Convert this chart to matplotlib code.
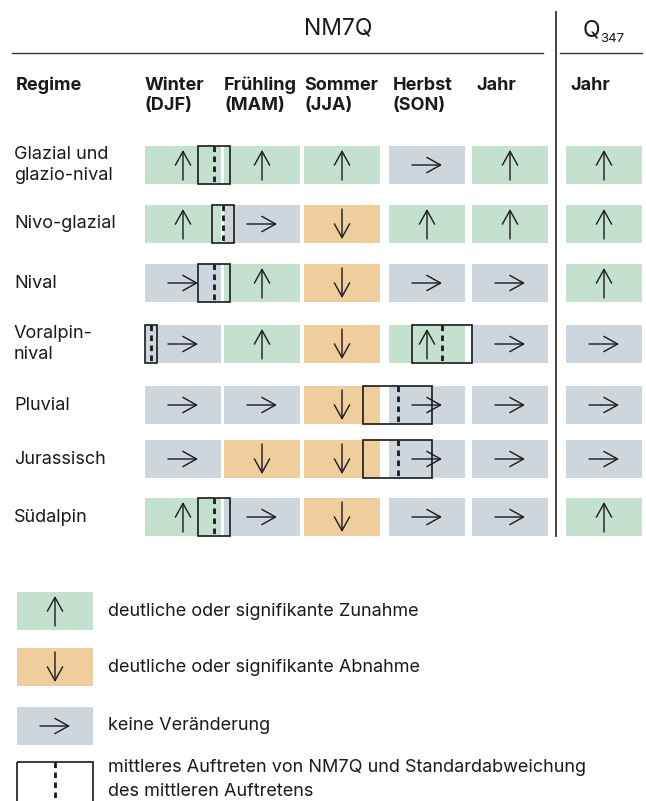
import numpy as np
import matplotlib
matplotlib.use("Agg")
import matplotlib.pyplot as plt
from matplotlib.patches import Rectangle

plt.rcParams['font.family'] = ['Inter', 'DejaVu Sans']

# trend codes: 1 = increase, -1 = decrease, 0 = no change
regimes = ["Glazial und\nglazio-nival", "Nivo-glazial", "Nival", "Voralpin-\nnival",
           "Pluvial", "Jurassisch", "Südalpin"]
columns = ["Winter\n(DJF)", "Frühling\n(MAM)", "Sommer\n(JJA)", "Herbst\n(SON)", "Jahr", "Jahr"]
trends = [
    [1, 1, 1, 0, 1, 1],
    [1, 0, -1, 1, 1, 1],
    [0, 1, -1, 0, 0, 1],
    [0, 1, -1, 1, 0, 0],
    [0, 0, -1, 0, 0, 0],
    [0, -1, -1, 0, 0, 0],
    [1, 0, -1, 0, 0, 1],
]
# mean occurrence of NM7Q and its std, in season units (0 = start of winter)
box_row = [0, 1, 2, 3, 3, 4, 5, 6]
box_mean = [0.86, 0.975, 0.86, 0.075, 3.71, 3.16, 3.16, 0.86]
box_std = [0.2, 0.14, 0.2, 0.07, 0.375, 0.43, 0.43, 0.2]

legend_labels = ["deutliche oder signifikante Zunahme",
                 "deutliche oder signifikante Abnahme",
                 "keine Veränderung",
                 "mittleres Auftreten von NM7Q und Standardabweichung\ndes mittleren Auftretens"]

colors = {1: "#c4e1cf", -1: "#efcd9c", 0: "#cdd5dd"}
ink = "#1a1a1a"
fs = 13

fig = plt.figure(figsize=(6.46, 8.01), dpi=100)
ax = fig.add_axes([0, 0, 1, 1])
ax.set_xlim(0, 646)
ax.set_ylim(801, 0)
ax.axis("off")

col_left = [145, 224, 304, 389, 472, 566]
cell_w = 76
cell_h = 38
row_y = [165, 224, 283, 344, 405, 459, 517]


def season_x(u):
    return 145 + u * 80


def draw_arrow(x, y, code, size=30):
    h = size / 2
    if code == 1:
        start, end = (x, y + h), (x, y - h)
    elif code == -1:
        start, end = (x, y - h), (x, y + h)
    else:
        start, end = (x - h, y), (x + h, y)
    ax.annotate("", xy=end, xytext=start,
                arrowprops=dict(arrowstyle="->,head_length=0.45,head_width=0.25",
                                lw=1.0, color=ink, mutation_scale=22,
                                shrinkA=0, shrinkB=0))


def draw_box(x0, x1, xm, yc, h=cell_h):
    ax.add_patch(Rectangle((x0, yc - cell_h / 2), x1 - x0, h, fill=False,
                           edgecolor=ink, lw=1.2, zorder=4))
    ax.plot([xm, xm], [yc - cell_h / 2, yc - cell_h / 2 + h], color=ink, lw=2,
            ls=(0, (2, 1.6)), zorder=4)


# header
ax.text(338, 29, "NM7Q", ha="center", va="center", fontsize=16.5, color=ink)
ax.text(583, 31, "Q", ha="left", va="center", fontsize=16.5, color=ink)
ax.text(600, 39, "347", ha="left", va="center", fontsize=9.5, color=ink)
ax.plot([12, 543], [53, 53], color="#333333", lw=1)
ax.plot([560, 642], [53, 53], color="#333333", lw=1)
ax.plot([556, 556], [12, 536], color="#333333", lw=1.3)

ax.text(16, 85, "Regime", ha="left", va="center", fontsize=fs, fontweight="bold", color=ink)
head_x = [145, 224, 304, 393, 476, 570]
for x, lab in zip(head_x, columns):
    for k, ln in enumerate(lab.split("\n")):
        ax.text(x, 85 + 21 * k, ln, ha="left", va="center", fontsize=fs,
                fontweight="bold", color=ink)

# rows
for i, (name, row) in enumerate(zip(regimes, trends)):
    yc = row_y[i]
    lines = name.split("\n")
    off = -(len(lines) - 1) * 10.5
    for k, ln in enumerate(lines):
        ax.text(14, yc + off + 21 * k, ln, ha="left", va="center", fontsize=fs, color=ink)
    for j, code in enumerate(row):
        ax.add_patch(Rectangle((col_left[j], yc - cell_h / 2), cell_w, cell_h,
                               facecolor=colors[code], edgecolor="none", zorder=1))
        draw_arrow(col_left[j] + cell_w / 2, yc, code)

for r, m, s in zip(box_row, box_mean, box_std):
    draw_box(season_x(m - s), season_x(m + s), season_x(m), row_y[r])

# legend
leg_y = [611, 667, 726, 781]
for k, (yc, lab) in enumerate(zip(leg_y, legend_labels)):
    if k < 3:
        code = [1, -1, 0][k]
        ax.add_patch(Rectangle((17, yc - 19), 76, 38, facecolor=colors[code],
                               edgecolor="none"))
        draw_arrow(55, yc, code)
        ax.text(108, yc, lab, ha="left", va="center", fontsize=fs, color=ink)
    else:
        draw_box(17, 93, 55, yc, h=60)
        for n, ln in enumerate(lab.split("\n")):
            ax.text(108, 768 + 23 * n, ln, ha="left", va="center", fontsize=fs, color=ink)

fig.savefig("out.png", dpi=100)
